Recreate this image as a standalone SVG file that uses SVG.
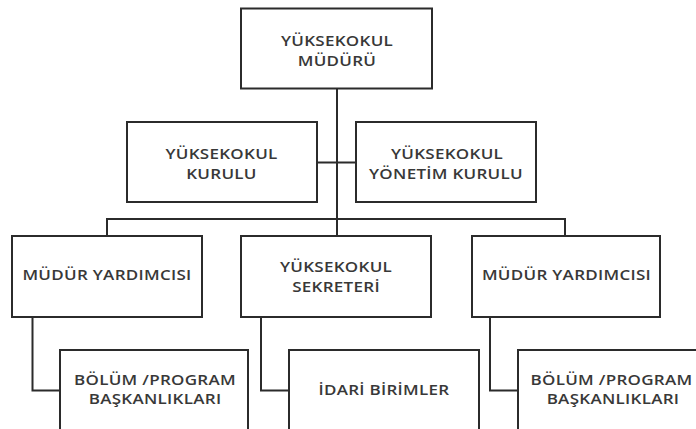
<svg xmlns="http://www.w3.org/2000/svg" width="696" height="429" viewBox="0 0 696 429">
<style>
.box{fill:#fff;stroke:#2b2b2b;stroke-width:2}
.con{fill:none;stroke:#2b2b2b;stroke-width:2}
.t{font-family:"Open Sans","Noto Sans",sans-serif;font-size:15.2px;font-weight:600;letter-spacing:0.25px;fill:#383838;text-anchor:middle;transform-box:fill-box;transform-origin:center;transform:scaleX(1.12)}
</style>
<rect width="696" height="429" fill="#fff"/>
<g id="connectors">
<path class="con" d="M337 88V236"/>
<path class="con" d="M317 162.5H356"/>
<path class="con" d="M107 236V219H565V236"/>
<path class="con" d="M32.5 317V390.5H60"/>
<path class="con" d="M261 317V390.5H289"/>
<path class="con" d="M490 317V390.5H518"/>
</g>
<g id="mudur">
<rect class="box" x="241" y="8.5" width="191" height="80"/>
<text class="t" x="337" y="46.5">YÜKSEKOKUL</text>
<text class="t" x="337" y="66">MÜDÜRÜ</text>
</g>
<g id="kurulu">
<rect class="box" x="127" y="122" width="190" height="80"/>
<text class="t" x="221.5" y="159.5">YÜKSEKOKUL</text>
<text class="t" x="221.5" y="179">KURULU</text>
</g>
<g id="yonetim">
<rect class="box" x="356" y="122" width="180" height="80"/>
<text class="t" x="447" y="159.5">YÜKSEKOKUL</text>
<text class="t" x="446" y="179">YÖNETİM KURULU</text>
</g>
<g id="yardimci1">
<rect class="box" x="12" y="236" width="190" height="81"/>
<text class="t" x="107" y="280.5">MÜDÜR YARDIMCISI</text>
</g>
<g id="sekreter">
<rect class="box" x="241" y="236" width="190" height="81"/>
<text class="t" x="336" y="272.5">YÜKSEKOKUL</text>
<text class="t" x="336" y="292">SEKRETERİ</text>
</g>
<g id="yardimci2">
<rect class="box" x="472" y="236" width="188" height="81"/>
<text class="t" x="566.5" y="280.5">MÜDÜR YARDIMCISI</text>
</g>
<g id="bolum1">
<rect class="box" x="60" y="350" width="188" height="90"/>
<text class="t" x="155" y="385">BÖLÜM /PROGRAM</text>
<text class="t" x="155" y="404.5">BAŞKANLIKLARI</text>
</g>
<g id="idari">
<rect class="box" x="289" y="350" width="190" height="90"/>
<text class="t" x="384" y="395.5">İDARİ BİRİMLER</text>
</g>
<g id="bolum2">
<rect class="box" x="518" y="350" width="188" height="90"/>
<text class="t" x="611.5" y="385">BÖLÜM /PROGRAM</text>
<text class="t" x="613" y="404.5">BAŞKANLIKLARI</text>
</g>
</svg>
